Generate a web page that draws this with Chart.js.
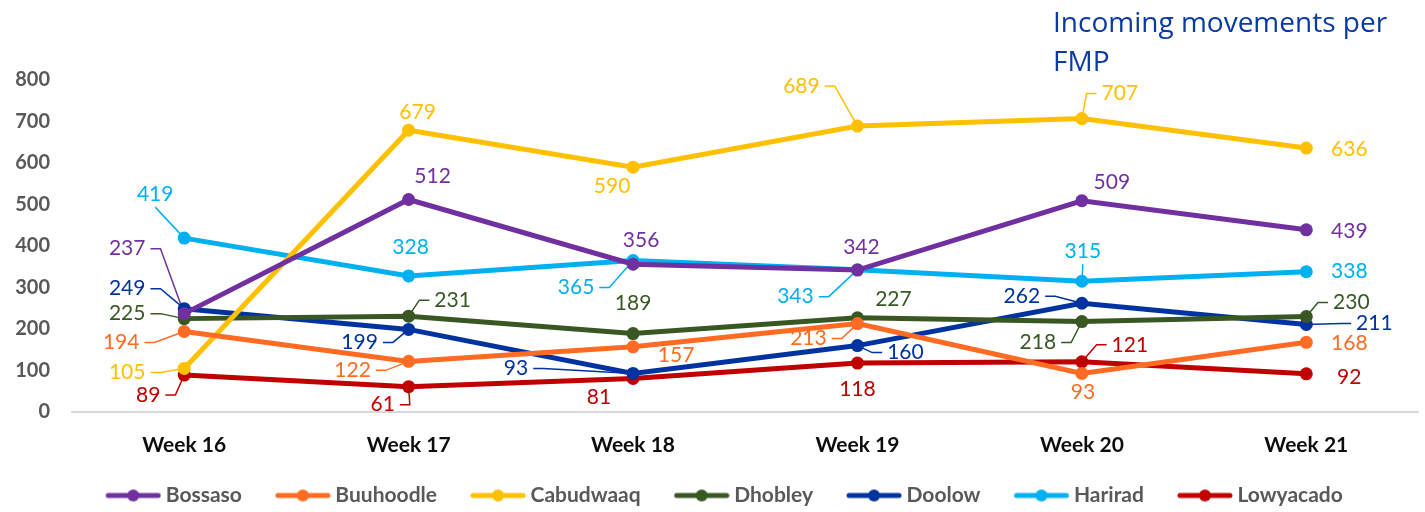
<!DOCTYPE html>
<html>
<head>
<meta charset="utf-8">
<script src="https://cdn.jsdelivr.net/npm/chart.js@4.4.1/dist/chart.umd.min.js"></script>
<style>
  html, body { margin: 0; padding: 0; background: #fff; }
  #wrap { width: 1425px; height: 512px; position: relative; }
</style>
</head>
<body>
<div id="wrap"><canvas id="fmpChart"></canvas></div>
<script>
// categories and values
var weeks = ['Week 16', 'Week 17', 'Week 18', 'Week 19', 'Week 20', 'Week 21'];
var bossaso   = [237, 512, 356, 342, 509, 439];
var buuhoodle = [194, 122, 157, 213, 93, 168];
var cabudwaaq = [105, 679, 590, 689, 707, 636];
var dhobley   = [225, 231, 189, 227, 218, 230];
var doolow    = [249, 199, 93, 160, 262, 211];
var harirad   = [419, 328, 365, 343, 315, 338];
var lowyacado = [89, 61, 81, 118, 121, 92];
var yTicks = [0, 100, 200, 300, 400, 500, 600, 700, 800];
var titleLines = ['Incoming movements per', 'FMP'];

// where each value label sits relative to its point: [dx, dy, leader]
// leader 1 = from the label's side, 2 = from above/below the label
var labelPos = {
    'Bossaso':   [[-57, -65, 1], [24, -23], [8, -24], [4, -23], [30, -19], [43, 1]],
    'Buuhoodle': [[-63, 11, 1], [-56, 9, 1], [43, 8], [-49, 15, 1], [1, 19], [43, 1]],
    'Cabudwaaq': [[-57, 4, 1], [9, -18], [-21, 19], [-56, -40, 1], [38, -25, 1], [43, 1]],
    'Dhobley':   [[-57, -5, 1], [44, -16, 1], [0, -30], [36, -19], [-44, 21, 1], [45, -14, 1]],
    'Doolow':    [[-57, -20, 1], [-49, 13, 1], [-117, -5, 1], [48, 7, 1], [-60, -7, 1], [68, -1, 1]],
    'Harirad':   [[-29, -44, 2], [2, -29], [-57, 27, 1], [-62, 27, 1], [1, -30, 2], [43, 0]],
    'Lowyacado': [[-36, 20, 1], [-26, 18, 1], [-34, 19], [0, 26], [48, -17, 1], [43, 3]]
};

function series(label, data, color) {
    return {
        label: label,
        data: data,
        borderColor: color,
        backgroundColor: color,
        borderWidth: 5,
        pointRadius: 6.5,
        pointHoverRadius: 6.5,
        pointBackgroundColor: color,
        pointBorderWidth: 0,
        tension: 0
    };
}

// legend marker: line with a dot, blank space on the left acts as item gap
function legendIcon(color) {
    var c = document.createElement('canvas');
    c.width = 85; c.height = 14;
    var g = c.getContext('2d');
    g.strokeStyle = color; g.lineWidth = 5; g.lineCap = 'round';
    g.beginPath(); g.moveTo(32, 7); g.lineTo(82, 7); g.stroke();
    g.fillStyle = color;
    g.beginPath(); g.arc(57, 7, 6, 0, Math.PI * 2); g.fill();
    return c;
}

var labelFont = '21px Lato, "Open Sans", sans-serif';

// leader lines go under the points, numbers on top
var pointLabels = {
    id: 'pointLabels',
    beforeDatasetsDraw: function (chart) {
        var ctx = chart.ctx;
        ctx.save();
        ctx.font = labelFont;
        ctx.lineWidth = 1.5;
        chart.data.datasets.forEach(function (ds, di) {
            chart.getDatasetMeta(di).data.forEach(function (pt, i) {
                var p = labelPos[ds.label][i];
                if (!p[2]) return;
                var lx = pt.x + p[0], ly = pt.y + p[1];
                var w = ctx.measureText(String(ds.data[i])).width;
                ctx.strokeStyle = ds.borderColor;
                ctx.beginPath();
                if (p[2] === 1) {
                    var s = p[0] < 0 ? 1 : -1;
                    var sx = lx + s * (w / 2 + 5);
                    ctx.moveTo(sx, ly);
                    ctx.lineTo(sx + s * 10, ly);
                } else {
                    ctx.moveTo(lx, ly + (p[1] < 0 ? 13 : -13));
                }
                ctx.lineTo(pt.x, pt.y);
                ctx.stroke();
            });
        });
        ctx.restore();
    },
    afterDatasetsDraw: function (chart) {
        var ctx = chart.ctx;
        ctx.save();
        ctx.font = labelFont;
        ctx.textAlign = 'center';
        ctx.textBaseline = 'middle';
        chart.data.datasets.forEach(function (ds, di) {
            chart.getDatasetMeta(di).data.forEach(function (pt, i) {
                var p = labelPos[ds.label][i];
                ctx.fillStyle = ds.borderColor;
                ctx.fillText(String(ds.data[i]), pt.x + p[0], pt.y + p[1]);
            });
        });
        ctx.restore();
    }
};

var cornerTitle = {
    id: 'cornerTitle',
    afterDraw: function (chart) {
        var ctx = chart.ctx;
        ctx.save();
        ctx.font = '28px "Open Sans", sans-serif';
        ctx.fillStyle = '#0a3aa3';
        ctx.textAlign = 'left';
        ctx.textBaseline = 'alphabetic';
        titleLines.forEach(function (t, i) {
            ctx.fillText(t, 1053, 32 + i * 39);
        });
        ctx.restore();
    }
};

var colors = ['#7030a0', '#ff6b22', '#ffc000', '#385723', '#0033a0', '#00b0f0', '#c00000'];
var icons = colors.map(legendIcon);

var ctx = document.getElementById('fmpChart').getContext('2d');
var chart = new Chart(ctx, {
    type: 'line',
    data: {
        labels: weeks,
        datasets: [
            series('Bossaso', bossaso, colors[0]),
            series('Buuhoodle', buuhoodle, colors[1]),
            series('Cabudwaaq', cabudwaaq, colors[2]),
            series('Dhobley', dhobley, colors[3]),
            series('Doolow', doolow, colors[4]),
            series('Harirad', harirad, colors[5]),
            series('Lowyacado', lowyacado, colors[6])
        ]
    },
    options: {
        responsive: true,
        maintainAspectRatio: false,
        animation: false,
        layout: { padding: { top: 80, right: 0, left: 0, bottom: -4 } },
        plugins: {
            tooltip: { enabled: false },
            legend: {
                position: 'bottom',
                labels: {
                    usePointStyle: true,
                    pointStyleWidth: 73,
                    padding: 10,
                    color: '#595959',
                    font: { family: 'Lato', size: 21, weight: 'bold' },
                    generateLabels: function (chart) {
                        var items = Chart.defaults.plugins.legend.labels.generateLabels(chart);
                        items.forEach(function (it, i) { it.pointStyle = icons[i]; });
                        return items;
                    }
                }
            }
        },
        scales: {
            x: {
                offset: true,
                afterFit: function (scale) { scale.height = 63; },
                grid: { display: false },
                border: { display: true, color: '#d9d9d9', width: 2 },
                ticks: {
                    padding: 13,
                    color: '#0d0d0d',
                    font: { family: 'Lato', size: 21, weight: 'bold' }
                }
            },
            y: {
                min: yTicks[0],
                max: yTicks[yTicks.length - 1],
                afterFit: function (scale) { scale.width = 72; },
                afterBuildTicks: function (scale) {
                    scale.ticks = yTicks.map(function (v) { return { value: v }; });
                },
                grid: { display: false },
                border: { display: false },
                ticks: {
                    padding: 14,
                    color: '#595959',
                    font: { family: 'Lato', size: 20, weight: 'bold' }
                }
            }
        }
    },
    plugins: [pointLabels, cornerTitle]
});
</script>
</body>
</html>
